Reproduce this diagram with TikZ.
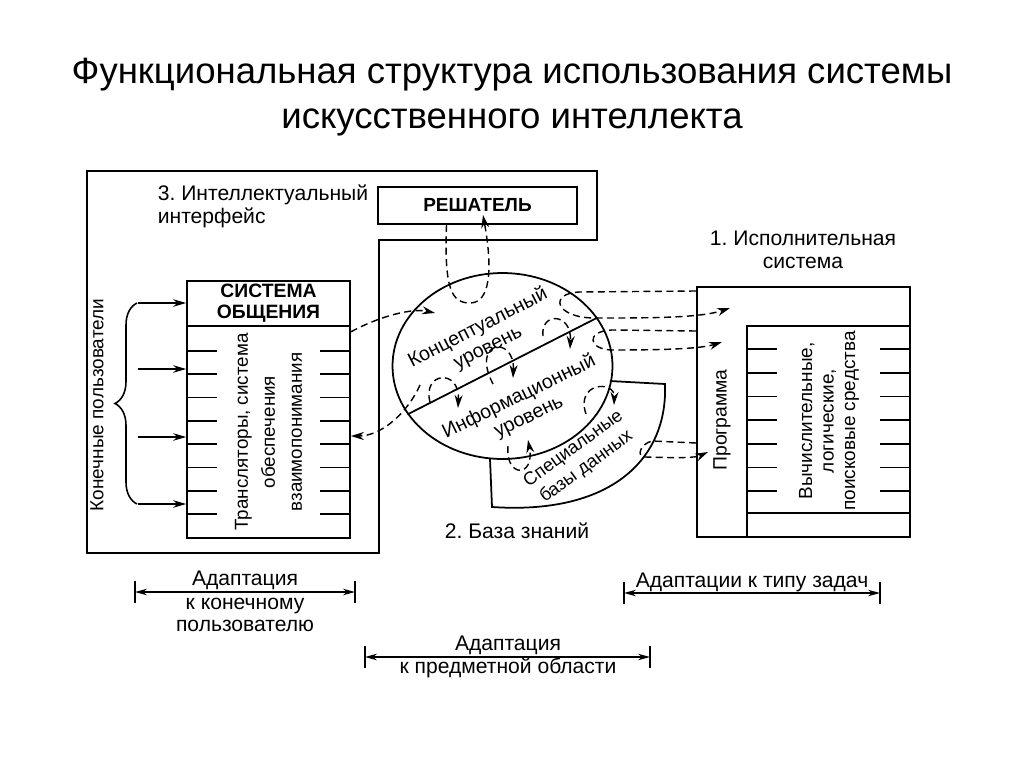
\documentclass[tikz,border=0pt]{standalone}
\usepackage{fontspec}
\setmainfont{Liberation Sans}
\usetikzlibrary{arrows.meta,shapes.geometric,decorations.pathreplacing,positioning}
\frenchspacing

\begin{document}
\begin{tikzpicture}[
    x=0.02cm, y=-0.02cm,
    line width=1pt,
    font=\fontsize{12}{13}\selectfont,
    box/.style={draw, line width=1pt, inner sep=0pt},
    caps/.style={font=\bfseries\fontsize{11}{12}\selectfont, align=center},
    txt/.style={align=center, inner sep=0pt},
    small/.style={font=\fontsize{10.8}{12.2}\selectfont},
    flow/.style={line width=0.8pt, dash pattern=on 4pt off 2.5pt, -{Stealth[length=2.6mm,width=1.6mm]}},
    dim/.style={line width=0.8pt, {Stealth[length=2.4mm,width=1.3mm]}-{Stealth[length=2.4mm,width=1.3mm]}},
    tick/.style={line width=0.8pt},
    arrowin/.style={line width=0.9pt, -{Stealth[length=2.6mm,width=1.5mm]}}]

  \useasboundingbox (0,0) rectangle (1024,767);

  % title
  \node[txt, font=\fontsize{20.8}{25.5}\selectfont] (title) at (512,97)
    {Функциональная структура использования системы\\искусственного интеллекта};

  % 3. intelligent interface
  \draw (87,171) -- (597,171) -- (597,240) -- (379,240) -- (379,553) -- (87,553) -- cycle;
  \node[txt, align=left, anchor=west] (ifacelabel) at (157,206) {3. Интеллектуальный\\интерфейс};

  \node[box, caps, font=\bfseries\fontsize{10.8}{12}\selectfont, minimum width=3.98cm, minimum height=0.74cm] (solver) at (477.5,205.5) {РЕШАТЕЛЬ};

  \node[box, caps, minimum width=3.26cm, minimum height=0.9cm] (commhead) at (268.5,303.5) {СИСТЕМА\\ОБЩЕНИЯ};
  \node[box, rotate=90, minimum width=4.24cm, minimum height=3.26cm, align=center,
        font=\fontsize{10.7}{15.3}\selectfont] (translators) at (268.5,432)
    {Трансляторы, система\\обеспечения\\взаимопонимания};
  \foreach \k in {0,...,7}
    \draw (187,{351+23.3*\k}) -- (217,{351+23.3*\k})
          (320,{351+23.3*\k}) -- (350,{351+23.3*\k});

  % end users
  \node[txt, rotate=90, small] (users) at (97,405) {Конечные пользователи};
  \draw[line width=0.9pt, decorate, decoration={brace, amplitude=0.44cm}] (137,504) -- (137,303);
  \foreach \y in {303,369,437,504}
    \draw[arrowin] (138,\y) -- (commhead.west |- 0,\y);

  % 2. knowledge base
  \draw (610,381) -- (665,384) .. controls (668,460) and (610,515) .. (492,507) -- (490,459);
  \node[box, ellipse, minimum width=4.4cm, minimum height=3.72cm] (kb) at (502.5,366) {};
  \draw (kb.207.4) -- (kb.27.4);
  \node[txt, rotate=27, font=\fontsize{11.2}{12.6}\selectfont] (concept) at (483,338) {Концептуальный\\уровень};
  \node[txt, rotate=26, font=\fontsize{11.2}{12.6}\selectfont] (inform) at (524,407) {Информационный\\уровень};
  \node[txt, rotate=36, font=\fontsize{10.4}{12.6}\selectfont] (specdb) at (580,458) {Специальные\\базы данных};
  \node[txt] (kblabel) at (517,531) {2. База знаний};

  % 1. executive system
  \node[box, minimum width=4.26cm, minimum height=5cm] (execsys) at (803.5,412) {};
  \node[box, minimum width=3.26cm, minimum height=4.22cm] (tools) at (828.5,431.5) {};
  \draw (tools.west |- 0,513) -- (tools.east |- 0,513);
  \foreach \k in {0,...,6}
    \draw (747,{349+23.7*\k}) -- (777,{349+23.7*\k})
          (880,{349+23.7*\k}) -- (910,{349+23.7*\k});
  \node[txt, rotate=90, font=\fontsize{11}{12}\selectfont] (program) at (722,420) {Программа};
  \node[txt, rotate=90, small] (toolstext) at (829,421)
    {Вычислительные,\\логические,\\поисковые средства};
  \node[txt] (execlabel) at (803,250) {1. Исполнительная\\система};

  % loop ends
  \coordinate (solverin) at (483,215);
  \coordinate (conceptin) at (435,313);
  \coordinate (infoout) at (420,385);
  \coordinate (execin1) at (730,308);
  \coordinate (execin2) at (722,342);
  \coordinate (execin3) at (708,452);

  % dashed flows
  \draw[flow] ([xshift=-0.62cm]solver.south) .. controls (444,290) and (452,303) .. (470,303)
    .. controls (490,303) and (493,270) .. (solverin);
  \draw[flow] ([yshift=-0.1cm]commhead.south east) .. controls (380,316) and (412,308) .. (conceptin);
  \draw[flow] (infoout) .. controls (408,412) and (382,436) .. (translators.south |- 0,436);
  \draw[flow] (430,402) .. controls (422,372) and (460,368) .. (458,408);
  \draw[flow] (493,384) .. controls (470,340) and (515,335) .. (513,378);
  \draw[flow] (543,336) .. controls (540,312) and (572,312) .. (570,349);
  \draw[flow] (586,414) .. controls (575,382) and (615,380) .. (614,405);
  \draw[flow] (508,446) .. controls (505,478) and (535,478) .. (528,440);
  \draw[flow] (execsys.west |- 0,291) -- (580,292) .. controls (548,293) and (555,318) .. (595,318)
    .. controls (650,318) and (700,318) .. (execin1);
  \draw[flow] (execsys.west |- 0,331) -- (612,330) .. controls (585,331) and (588,350) .. (613,350)
    .. controls (660,350) and (700,349) .. (execin2);
  \draw[flow] (execsys.west |- 0,443) -- (652,441) .. controls (640,444) and (636,457) .. (645,457)
    .. controls (680,458) and (695,458) .. (execin3);

  % adaptation ranges
  \coordinate (userL) at (135,592);
  \coordinate (userR) at (355,592);
  \coordinate (domainL) at (365,657);
  \coordinate (domainR) at (650,657);
  \coordinate (taskL) at (624,593);
  \coordinate (taskR) at (880,593);
  \foreach \a/\b in {userL/userR,domainL/domainR,taskL/taskR} {
    \draw[dim] (\a) -- (\b);
    \draw[tick] (\a) ++(0,-11) -- ++(0,22);
    \draw[tick] (\b) ++(0,-11) -- ++(0,22);
  }
  \node[txt] (useradapt) at (245,580) {Адаптация};
  \node[txt] (userto) at (245,615) {к конечному\\пользователю};
  \node[txt] (domainadapt) at (508,645) {Адаптация};
  \node[txt] (domainto) at (508,668) {к предметной области};
  \node[txt] (taskadapt) at (752,582) {Адаптации к типу задач};

\end{tikzpicture}
\end{document}
